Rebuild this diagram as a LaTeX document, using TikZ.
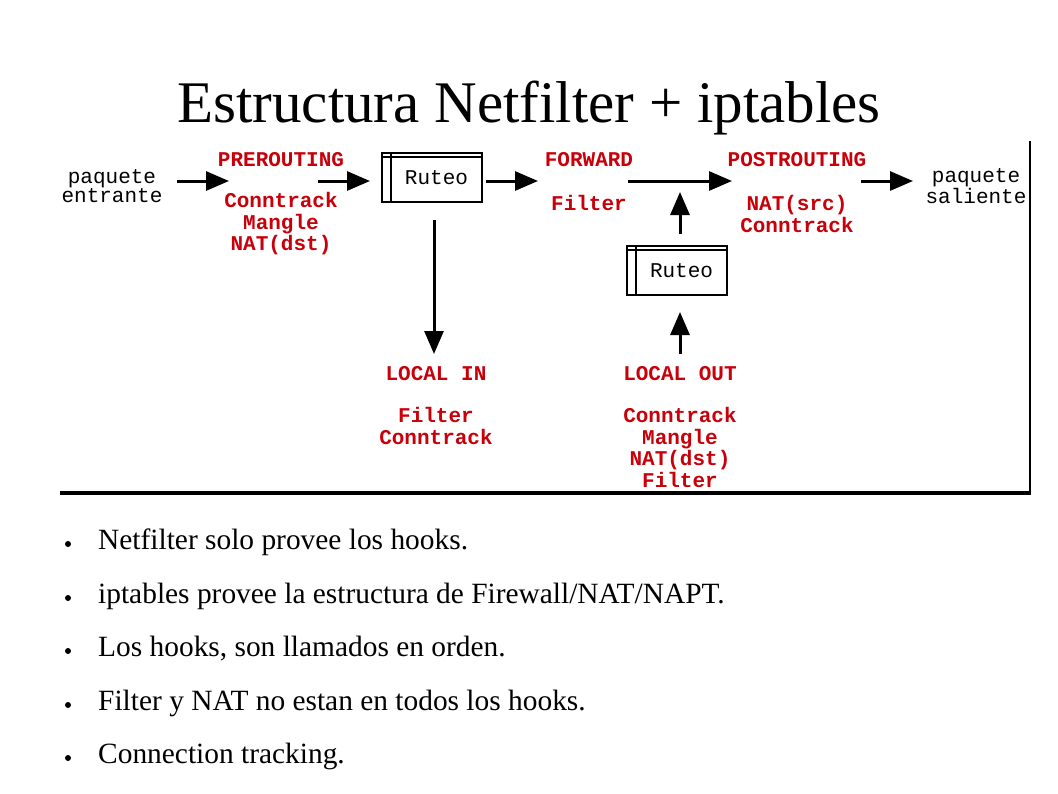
\documentclass[tikz,border=0pt]{standalone}
\usepackage{fontspec}
\setmainfont{Liberation Serif}
\newfontfamily\diagfont{Liberation Mono}
\usetikzlibrary{arrows.meta}
\definecolor{hookred}{RGB}{200,0,10}
\tikzset{
  txt/.style={font=\diagfont\fontsize{21}{19.5}\selectfont, align=center, inner sep=0pt},
  hook/.style={font=\diagfont\bfseries\fontsize{21}{21.5}\selectfont, text=hookred, align=center, inner sep=0pt},
  ruteo/.style={draw, line width=2pt, minimum width=100pt, minimum height=49pt, inner sep=0pt,
    font=\diagfont\fontsize{21}{21}\selectfont, execute at begin node=\hspace*{9pt}},
  flow/.style={line width=3pt, -{Triangle[length=23pt,width=19pt]}},
  item/.style={anchor=base west, inner sep=0pt, font=\fontsize{29.4}{29.4}\selectfont},
}
\begin{document}
\begin{tikzpicture}[x=1pt,y=-1pt]
  \useasboundingbox (0,0) rectangle (1058,793);
  \node[anchor=base, inner sep=0pt, font=\fontsize{59}{59}\selectfont] (title) at (529,122)
    {Estructura Netfilter + iptables};
  % frame of the figure
  \draw[line width=2pt] (1030,141) -- (1030,494);
  \draw[line width=4pt] (60,493) -- (1031,493);
  % text blocks and routing boxes
  \draw
    (112,186) node[txt] (in){paquete\\entrante}
    (281,160) node[hook] (pre){PREROUTING}
    (281,224) node[hook] (prel){Conntrack\\Mangle\\NAT(dst)}
    (432,177.5) node[ruteo] (r1){Ruteo}
    (589,160) node[hook] (fwd){FORWARD}
    (589,203) node[hook] (fwdl){Filter}
    (797,160) node[hook] (post){POSTROUTING}
    (797,214) node[hook] (postl){NAT(src)\\Conntrack}
    (976,186) node[txt] (out){paquete\\saliente}
    (677,270.5) node[ruteo] (r2){Ruteo}
    (436,374) node[hook] (lin){LOCAL IN}
    (436,426) node[hook] (linl){Filter\\Conntrack}
    (680,374) node[hook] (lout){LOCAL OUT}
    (680,447.5) node[hook] (loutl){Conntrack\\Mangle\\NAT(dst)\\Filter};
  \draw[line width=2pt] ([yshift=-5pt]r1.north west) -- ([yshift=-5pt]r1.north east);
  \draw[line width=2pt] ([xshift=10pt]r1.north west) -- ([xshift=10pt]r1.south west);
  \draw[line width=2pt] ([yshift=-5pt]r2.north west) -- ([yshift=-5pt]r2.north east);
  \draw[line width=2pt] ([xshift=10pt]r2.north west) -- ([xshift=10pt]r2.south west);
  % arrow ends
  \coordinate (p0) at (177,181);
  \coordinate (p1) at (229,181);
  \coordinate (p2) at (318,181);
  \coordinate (p3) at (370,181);
  \coordinate (p4) at (486,181);
  \coordinate (p5) at (538,181);
  \coordinate (p6) at (628,181);
  \coordinate (p7) at (732,181);
  \coordinate (p8) at (861,181);
  \coordinate (p9) at (913,181);
  \coordinate (d0) at (434,220);
  \coordinate (d1) at (434,354);
  \coordinate (u0) at (680,234);
  \coordinate (u1) at (680,192);
  \coordinate (u2) at (680,354);
  \coordinate (u3) at (680,312);
  \begin{scope}[flow]
    \draw (p0) to (p1);
    \draw (p2) to (p3);
    \draw (p4) to (p5);
    \draw (p6) to (p7);
    \draw (p8) to (p9);
    \draw (d0) to (d1);
    \draw (u0) to (u1);
    \draw (u2) to (u3);
  \end{scope}
  % bullet list
  \fill (68,544) circle (3);
  \fill (68,598) circle (3);
  \fill (68,651) circle (3);
  \fill (68,705) circle (3);
  \fill (68,758) circle (3);
  \node[item] (b1) at (98,549) {Netfilter solo provee los hooks.};
  \node[item] (b2) at (98,603) {iptables provee la estructura de Firewall/NAT/NAPT.};
  \node[item] (b3) at (98,656) {Los hooks, son llamados en orden.};
  \node[item] (b4) at (98,710) {Filter y NAT no estan en todos los hooks.};
  \node[item] (b5) at (98,763) {Connection tracking.};
\end{tikzpicture}
\end{document}
